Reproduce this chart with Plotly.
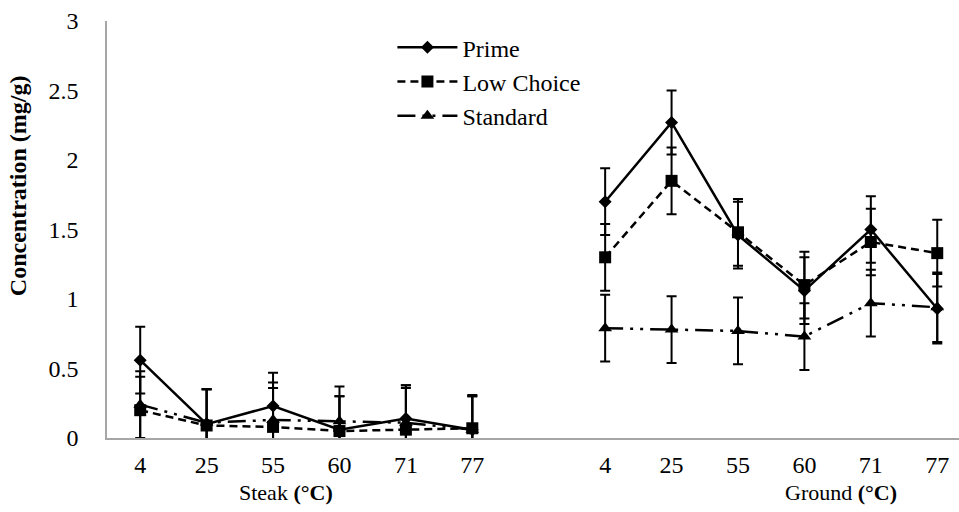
import plotly.graph_objects as go

# Cooking temperatures (°C) for each product form
steak_temps = ["4", "25", "55", "60", "71", "77"]
ground_temps = ["4", "25", "55", "60", "71", "77"]

# Mean concentration (mg/g) and standard errors by quality grade
prime_steak = [0.56, 0.10, 0.23, 0.06, 0.14, 0.06]
prime_steak_err = [0.24, 0.25, 0.24, 0.24, 0.24, 0.24]
prime_ground = [1.70, 2.27, 1.46, 1.06, 1.50, 0.93]
prime_ground_err = [0.24, 0.23, 0.24, 0.24, 0.24, 0.25]

choice_steak = [0.20, 0.09, 0.08, 0.05, 0.06, 0.07]
choice_steak_err = [0.24, 0.26, 0.28, 0.25, 0.30, 0.24]
choice_ground = [1.30, 1.85, 1.48, 1.10, 1.41, 1.33]
choice_ground_err = [0.24, 0.24, 0.24, 0.24, 0.24, 0.24]

standard_steak = [0.24, 0.11, 0.13, 0.12, 0.11, 0.06]
standard_steak_err = [0.24, 0.24, 0.27, 0.25, 0.27, 0.24]
standard_ground = [0.79, 0.78, 0.77, 0.73, 0.97, 0.94]
standard_ground_err = [0.24, 0.24, 0.24, 0.24, 0.24, 0.25]

series_names = ["Prime", "Low Choice", "Standard"]

# Category slots: steak at 0-5, one empty slot, ground at 7-12
steak_x = list(range(len(steak_temps)))
ground_x = [len(steak_temps) + 1 + i for i in range(len(ground_temps))]

FONT = "Liberation Serif"
FS = 24

styles = {
    "Prime": dict(dash="solid", symbol="diamond", size=10),
    "Low Choice": dict(dash="8px,5px", symbol="square", size=12),
    "Standard": dict(dash="18px,7px,3px,7px,3px,7px", symbol="triangle-up", size=12),
}

data = {
    "Prime": (prime_steak, prime_steak_err, prime_ground, prime_ground_err),
    "Low Choice": (choice_steak, choice_steak_err, choice_ground, choice_ground_err),
    "Standard": (standard_steak, standard_steak_err, standard_ground, standard_ground_err),
}

fig = go.Figure()
for name in series_names:
    st = styles[name]
    s_y, s_e, g_y, g_e = data[name]
    for idx, (xs, ys, es) in enumerate([(steak_x, s_y, s_e), (ground_x, g_y, g_e)]):
        fig.add_trace(go.Scatter(
            x=xs, y=ys, name=name, legendgroup=name, showlegend=(idx == 0),
            mode="lines+markers",
            line=dict(color="black", width=2.5, dash=st["dash"]),
            marker=dict(color="black", symbol=st["symbol"], size=st["size"]),
            error_y=dict(type="data", array=es, visible=True,
                         color="black", thickness=2, width=5),
            cliponaxis=True,
        ))

fig.update_layout(
    width=959, height=512,
    margin=dict(l=107, r=0, t=21, b=74),
    paper_bgcolor="white", plot_bgcolor="white",
    font=dict(family=FONT, size=FS, color="black"),
    showlegend=True,
    legend=dict(
        x=0.335, y=0.99, xanchor="left", yanchor="top",
        bgcolor="rgba(0,0,0,0)", itemwidth=60, tracegroupgap=0,
        font=dict(family=FONT, size=24, color="black"),
    ),
    xaxis=dict(
        range=[-0.5, -0.5 + 852 / 66.42],
        tickvals=steak_x + ground_x,
        ticktext=steak_temps + ground_temps,
        showgrid=False, zeroline=False, ticks="",
        showline=True, linecolor="#A6A6A6", linewidth=1.5,
        ticklabelstandoff=4,
        tickfont=dict(family=FONT, size=FS, color="black"),
    ),
    yaxis=dict(
        range=[0, 3], tickvals=[0, 0.5, 1, 1.5, 2, 2.5, 3],
        ticktext=["0", "0.5", "1", "1.5", "2", "2.5", "3"],
        showgrid=False, zeroline=False, ticks="",
        showline=True, linecolor="#A6A6A6", linewidth=1.5,
        ticklabelstandoff=22,
        tickfont=dict(family=FONT, size=FS, color="black"),
    ),
    annotations=[
        dict(text="Steak <b>(°C)</b>", x=2.2, xref="x", y=0, yref="paper",
             yanchor="middle", yshift=-54, showarrow=False,
             font=dict(family=FONT, size=22)),
        dict(text="Ground <b>(°C)</b>", x=10.55, xref="x", y=0, yref="paper",
             yanchor="middle", yshift=-54, showarrow=False,
             font=dict(family=FONT, size=22)),
        dict(text="<b>Concentration (mg/g)</b>", textangle=-90,
             x=-(107 - 18) / 852, xref="paper", xanchor="center",
             y=0.604, yref="paper", yanchor="middle", showarrow=False,
             font=dict(family=FONT, size=24)),
    ],
)

fig.write_html("out.html")
